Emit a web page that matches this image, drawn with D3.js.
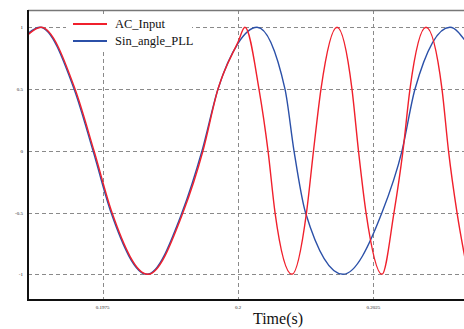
<!DOCTYPE html>
<html>
<head>
<meta charset="utf-8">
<script src="https://cdn.jsdelivr.net/npm/d3@7"></script>
<style>
  html, body { margin: 0; padding: 0; background: #fff; }
  svg { display: block; }
</style>
</head>
<body>
<div id="chart"></div>
<script>
// values
const seriesNames = ['AC_Input', 'Sin_angle_PLL'];
const xTicks = [0.1975, 0.2, 0.2025];
const xTickLabels = ['0.1975', '0.2', '0.2025'];
const yTicks = [1, 0.5, 0, -0.5, -1];
const yTickLabels = ['1', '0.5', '0', '-0.5', '-1'];

// AC_Input: time (s), value
const acTime = [0.196125, 0.196365, 0.196993, 0.197343, 0.197675, 0.198339, 0.198985, 0.199354, 0.199631,
  0.2, 0.200129, 0.200387, 0.200554, 0.200683, 0.200996, 0.201264, 0.201393, 0.201531, 0.201827,
  0.202103, 0.202223, 0.202362, 0.202657, 0.202878, 0.203044, 0.203173, 0.203469, 0.203764,
  0.203884, 0.204041, 0.20421];
const acValue = [0.94, 1, 0.5, 0, -0.5, -1, -0.5, 0, 0.5,
  0.88, 1, 0.5, 0, -0.5, -1, -0.5, 0, 0.5, 1,
  0.5, 0, -0.5, -1, -0.5, 0, 0.5, 1, 0.5,
  0, -0.5, -0.92];

// Sin_angle_PLL: time (s), value
const pllTime = [0.196125, 0.196347, 0.196975, 0.197325, 0.197657, 0.198321, 0.198967, 0.199336, 0.199631,
  0.2, 0.200351, 0.200867, 0.201033, 0.201245, 0.201937, 0.202657, 0.203026, 0.203266, 0.203911, 0.20421];
const pllValue = [0.95, 1, 0.5, 0, -0.5, -1, -0.5, 0, 0.5,
  0.87, 1, 0.5, 0, -0.5, -1, -0.5, 0, 0.5, 1, 0.88];

const width = 464, height = 329;
const margin = { L: 28, R: 0, T: 10, B: 29 };

const svg = d3.select('#chart').append('svg')
  .attr('width', width).attr('height', height);

const x = d3.scaleLinear()
  .domain([0.196125, 0.20417])
  .range([margin.L, width - margin.R]);
const y = d3.scaleLinear()
  .domain([-1.208, 1.14])
  .range([height - margin.B, margin.T]);

// grid
const grid = svg.append('g')
  .attr('stroke', '#8a8a8a').attr('stroke-width', 1).attr('stroke-dasharray', '4,3');
grid.selectAll('.gx').data(xTicks).enter().append('line')
  .attr('x1', d => Math.round(x(d)) + 0.5).attr('x2', d => Math.round(x(d)) + 0.5)
  .attr('y1', margin.T).attr('y2', height - margin.B);
grid.selectAll('.gy').data(yTicks).enter().append('line')
  .attr('x1', margin.L).attr('x2', width)
  .attr('y1', d => Math.round(y(d)) + 0.5).attr('y2', d => Math.round(y(d)) + 0.5);

// top frame
svg.append('line')
  .attr('x1', margin.L).attr('x2', width)
  .attr('y1', margin.T + 0.5).attr('y2', margin.T + 0.5)
  .attr('stroke', '#777').attr('stroke-width', 1.5);

// curves
svg.append('clipPath').attr('id', 'clip').append('rect')
  .attr('x', margin.L).attr('y', margin.T)
  .attr('width', width - margin.L).attr('height', height - margin.T - margin.B);

const line = d3.line()
  .x(d => x(d[0])).y(d => y(d[1]))
  .curve(d3.curveMonotoneX);

const pllPts = pllTime.map((t, i) => [t, pllValue[i]]);
const acPts = acTime.map((t, i) => [t, acValue[i]]);

const plot = svg.append('g').attr('clip-path', 'url(#clip)');
plot.append('path').datum(pllPts)
  .attr('d', line).attr('fill', 'none')
  .attr('stroke', '#2b50a8').attr('stroke-width', 1.4);
plot.append('path').datum(acPts)
  .attr('d', line).attr('fill', 'none')
  .attr('stroke', '#f0202c').attr('stroke-width', 1.4);

// axes lines
svg.append('line')
  .attr('x1', margin.L).attr('x2', margin.L)
  .attr('y1', margin.T).attr('y2', height - margin.B)
  .attr('stroke', '#111').attr('stroke-width', 2);
svg.append('line')
  .attr('x1', margin.L - 1).attr('x2', width)
  .attr('y1', height - margin.B).attr('y2', height - margin.B)
  .attr('stroke', '#111').attr('stroke-width', 2);

// tick labels
svg.append('g').selectAll('text').data(yTicks).enter().append('text')
  .attr('x', 23).attr('y', d => y(d) + 2)
  .attr('text-anchor', 'end')
  .style('font', '5px "Liberation Serif", serif').attr('fill', '#222')
  .text((d, i) => yTickLabels[i]);
svg.append('g').selectAll('text').data(xTicks).enter().append('text')
  .attr('x', d => x(d)).attr('y', height - margin.B + 9)
  .attr('text-anchor', 'middle')
  .style('font', '5px "Liberation Serif", serif').attr('fill', '#222')
  .text((d, i) => xTickLabels[i]);

// axis title
svg.append('text')
  .attr('x', 278).attr('y', 324)
  .attr('text-anchor', 'middle')
  .style('font', '16px "Liberation Serif", serif').attr('fill', '#111')
  .text('Time(s)');

// legend
const legend = svg.append('g');
legend.append('rect')
  .attr('x', 66).attr('y', 16).attr('width', 126).attr('height', 33)
  .attr('fill', '#fff');
const legendColors = ['#f0202c', '#2b50a8'];
seriesNames.forEach((name, i) => {
  const ly = 24 + i * 17;
  legend.append('line')
    .attr('x1', 73).attr('x2', 107).attr('y1', ly).attr('y2', ly)
    .attr('stroke', legendColors[i]).attr('stroke-width', 2);
  legend.append('text')
    .attr('x', 115).attr('y', ly + 4)
    .style('font', '12.5px "Liberation Serif", serif').attr('fill', '#111')
    .text(name);
});
</script>
</body>
</html>
